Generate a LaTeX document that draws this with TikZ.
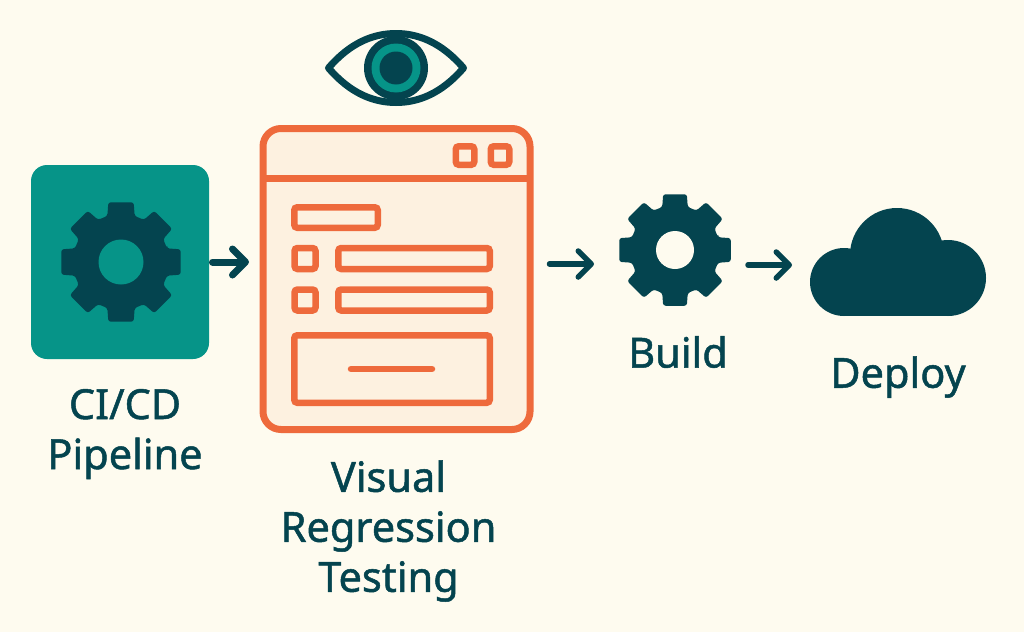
\documentclass[tikz,border=0pt]{standalone}
\usepackage{fontspec}
\setmainfont[FakeBold=1.2]{Noto Sans}
\usetikzlibrary{arrows.meta}
\definecolor{paper}{HTML}{FEFBEF}
\definecolor{tealbox}{HTML}{069488}
\definecolor{inkdark}{HTML}{04444F}
\definecolor{coral}{HTML}{EE6A3C}
\definecolor{peach}{HTML}{FDF1E0}
% center, outer radius, hole radius, hole colour
\newcommand{\drawgear}[4]{
  \begin{scope}[shift={#1},scale=#2/61]
    \fill[inkdark,rounded corners=2.5pt] (-16.5:48)
      \foreach \a in {0,45,...,315} {
        -- (\a-16.5:48) -- (\a-12:61) -- (\a+12:61) -- (\a+16.5:48)
      } -- cycle;
    \fill[#4] (0,0) circle (#3*61/#2);
  \end{scope}
}
\tikzset{
  formbox/.style={draw=coral,line width=6.5pt,rounded corners=3pt,inner sep=0,outer sep=0},
  flowarrow/.style={draw=inkdark,line cap=round,-{Straight Barb[length=13pt,width=26pt,round]}},
  caption/.style={text=inkdark,font=\fontsize{41.5}{50}\selectfont,align=center},
}
\begin{document}
\begin{tikzpicture}[x=1pt,y=-1pt]
\useasboundingbox[fill=paper] (0,0) rectangle (1024,632);

\node[fill=tealbox,rounded corners=16pt,minimum width=178pt,minimum height=194pt,inner sep=0,outer sep=0] (pipeline) at (120,262) {};
\node[draw=coral,fill=peach,line width=7pt,rounded corners=18pt,minimum width=267pt,minimum height=301pt,inner sep=0,outer sep=0] (window) at (396.5,279) {};
\node[circle,minimum size=114pt,inner sep=0,outer sep=0] (buildgear) at (675,250) {};
\node[minimum width=176pt,minimum height=108pt,inner sep=0,outer sep=0] (cloud) at (898,262) {};
\node[minimum width=142pt,minimum height=78pt,inner sep=0,outer sep=0] (eye) at (396,68) {};

\drawgear{(121,262)}{61}{22.5}{tealbox}
\drawgear{(675,250)}{57}{19}{paper}

% eye
\draw[inkdark,line width=7pt,line join=round,fill=paper] (328.5,68) .. controls (350,43) and (373,33.5) .. (396,33.5)
  .. controls (419,33.5) and (442,43) .. (463.5,68) .. controls (442,93) and (419,102.5) .. (396,102.5)
  .. controls (373,102.5) and (350,93) .. (328.5,68) -- cycle;
\fill[inkdark] (396,68) circle (32);
\fill[tealbox] (396,68) circle (24.5);
\fill[inkdark] (396,68) circle (16.5);

% title bar
\draw[coral,line width=7pt] (window.west |- 0,178) -- (window.east |- 0,178);
\node[formbox,minimum size=18.5pt] (btnleft) at (465,155.5) {};
\node[formbox,minimum size=18.5pt] (btnright) at (500,155.5) {};

% form
\node[formbox,minimum width=83.5pt,minimum height=20.5pt] (title) at (336,217.5) {};
\node[formbox,minimum size=21pt] (checkone) at (305,258.5) {};
\node[formbox,minimum width=151.5pt,minimum height=21pt] (fieldone) at (414,258.5) {};
\node[formbox,minimum size=21pt] (checktwo) at (305,300) {};
\node[formbox,minimum width=151.5pt,minimum height=21pt] (fieldtwo) at (414,300) {};
\node[formbox,minimum width=195.5pt,minimum height=67.5pt] (panel) at (392,369) {};
\draw[coral,line width=6.5pt,line cap=round] (351,369) -- (432,369);

% cloud
\fill[inkdark] (844,282) circle (34);
\fill[inkdark] (897,255) circle (47);
\fill[inkdark] (948,278) circle (38);
\fill[inkdark] (844,270) rectangle (948,316);

\draw[flowarrow,line width=7pt,shorten <=3.5pt,shorten >=14pt] (pipeline.east) -- (pipeline.east -| window.west);
\draw[flowarrow,line width=5.5pt,shorten <=19.5pt,shorten >=24pt] ([yshift=15pt]window.east) -- ([yshift=-14pt]buildgear.west);
\draw[flowarrow,line width=5.5pt,shorten <=16pt,shorten >=18pt] ([yshift=-15pt]buildgear.east) -- ([yshift=-3pt]cloud.west);

\node[caption,below of=pipeline,node distance=172pt,xshift=5pt] (pipelinetext) {CI/CD\\Pipeline};
\node[caption,below of=window,node distance=252pt,xshift=-8pt] (windowtext) {Visual\\Regression\\Testing};
\node[caption,below of=buildgear,node distance=102pt,xshift=3pt] (buildtext) {Build};
\node[caption,below of=cloud,node distance=115pt] (cloudtext) {Deploy};
\end{tikzpicture}
\end{document}
